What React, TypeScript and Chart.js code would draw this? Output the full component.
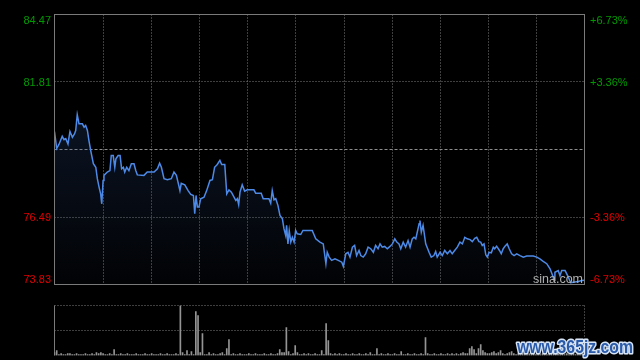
import React, { useEffect, useRef } from "react";
import { Chart, registerables } from "chart.js";

Chart.register(...registerables);

// ---- data ----
const prevClose = 79.15;
const priceMin = 73.83;
const priceMax = 84.47;
const priceGridValues = [76.49, 81.81];
const leftTickValues = [84.47, 81.81, 76.49, 73.83];
const leftTickLabels = ["84.47", "81.81", "76.49", "73.83"];
const rightTickLabels = ["+6.73%", "+3.36%", "-3.36%", "-6.73%"];
const totalMinutes = 240;
const timeColumns = 11;

const minutes = [
  0, 1, 2, 3.5, 4.3, 5.1, 6.1, 7, 8.1, 9.1,
  9.6, 10.3, 11.1, 12.6, 13.4, 14.1, 14.9, 15.6, 16.4, 17.6,
  18.7, 19.4, 20.2, 20.9, 21.4, 22, 22.4, 23.9, 25.1, 25.7,
  26.6, 27.3, 27.8, 28.8, 29.7, 30.4, 31.2, 31.8, 32.7, 33.7,
  34.8, 36, 36.8, 37.5, 40.5, 42, 45.1, 46.6, 47.6, 48.4,
  49.6, 51.1, 52.9, 54.1, 55.2, 56.1, 56.8, 57.4, 59, 60.5,
  61.7, 62.9, 63.5, 64.1, 64.7, 65.4, 66.2, 67.7, 68.9, 70.4,
  71.5, 72.5, 73.7, 74.9, 75.7, 77.1, 78, 79, 80.1, 81.3,
  82.1, 82.8, 83.4, 84, 85, 86.1, 87.3, 90.3, 91.1, 93.6,
  94.5, 97.1, 97.9, 98.6, 99.4, 100.2, 101.2, 102.1, 103.2, 103.9,
  104.7, 105.1, 105.7, 106.3, 107, 107.7, 108.5, 109.2, 109.9, 111.5,
  112.5, 116.7, 118.3, 120.2, 121.7, 122.9, 123.5, 124.4, 125.5, 127,
  128.5, 130.1, 130.8, 131.9, 132.9, 133.8, 134.9, 135.9, 136.8, 137.9,
  138.7, 139.8, 140.9, 142, 143.2, 144.4, 145.4, 146.5, 147.4, 148.4,
  149.5, 150.7, 151.9, 153, 154.1, 155, 156, 156.8, 157.9, 159,
  160.1, 161, 162, 162.8, 163.6, 165.1, 165.5, 166.1, 166.9, 168.1,
  169.6, 170.6, 171.8, 172.6, 173.3, 174.6, 175.6, 176.7, 177.9, 179.1,
  180.1, 181.2, 182.4, 183.6, 184.7, 185.8, 186.9, 188.2, 189.2, 190.3,
  191.2, 192.2, 193, 193.7, 194.5, 195.3, 196, 196.8, 197.8, 198.7,
  199.3, 200.2, 201.5, 202.3, 203.2, 204, 205, 205.9, 207, 208.1,
  209.3, 210.8, 212.3, 213.8, 216.8, 218.4, 219.8, 221.3, 222.9, 224.4,
  225.6, 226.2, 226.6, 228.1, 228.9, 229.7, 231.2, 232.7, 233.7, 234.9,
  237.2, 238.7, 240,
];

const prices = [
  79.86, 79.19, 79.35, 79.67, 79.54, 79.58, 79.37, 79.86, 79.63, 79.77,
  79.9, 80.52, 80.16, 80.16, 80.03, 80.1, 79.9, 79.5, 79.11, 78.59,
  78.45, 78.0, 77.66, 77.4, 77.01, 77.93, 78.13, 78.26, 78.32, 78.91,
  78.91, 78.45, 78.78, 78.91, 78.91, 78.39, 78.45, 78.26, 78.45, 78.32,
  78.59, 78.59, 78.32, 78.15, 78.13, 78.26, 78.26, 78.39, 78.61, 78.45,
  78.0, 77.96, 78.0, 78.26, 78.13, 77.8, 77.53, 77.82, 77.76, 77.53,
  77.38, 77.34, 76.62, 77.34, 76.88, 76.88, 77.21, 77.27, 77.53, 77.93,
  77.96, 78.45, 78.56, 78.72, 78.56, 78.56, 77.4, 77.56, 77.47, 77.27,
  77.14, 77.21, 76.98, 77.47, 77.76, 77.51, 77.56, 77.56, 77.43, 77.43,
  77.21, 77.21, 77.03, 77.53, 77.17, 77.21, 76.94, 76.55, 76.42, 76.03,
  75.76, 76.16, 75.43, 75.96, 75.5, 75.69, 75.5, 75.96, 75.83, 75.8,
  75.96, 75.96, 75.63, 75.5, 75.43, 74.65, 75.1, 74.91, 74.78, 74.84,
  74.78, 74.71, 74.54, 75.04, 75.1, 74.91, 75.3, 75.37, 74.97, 75.17,
  74.97, 74.91, 75.04, 75.3, 75.24, 75.1, 75.37, 75.24, 75.43, 75.3,
  75.33, 75.24, 75.33, 75.43, 75.63, 75.5, 75.43, 75.24, 75.5, 75.3,
  75.56, 75.3, 75.63, 75.69, 75.63, 76.22, 76.35, 75.89, 76.16, 75.43,
  75.1, 74.91, 74.97, 75.13, 74.91, 75.1, 74.97, 75.17, 75.04, 75.17,
  75.04, 75.17, 75.3, 75.5, 75.43, 75.69, 75.63, 75.6, 75.52, 75.65,
  75.69, 75.52, 75.5, 75.37, 75.43, 75.0, 74.91, 75.1, 75.08, 75.3,
  75.24, 75.34, 75.17, 75.04, 75.24, 75.34, 75.43, 75.24, 75.04, 74.97,
  75.04, 74.97, 74.91, 74.95, 74.95, 74.91, 74.84, 74.74, 74.65, 74.45,
  74.18, 73.99, 74.31, 74.38, 74.18, 74.38, 74.38, 74.12, 73.9, 73.92,
  73.95, 73.99, 74.0,
];

const volume = [
  3, 5, 1, 2, 1, 1, 2, 2, 1, 1, 2, 1, 1, 1, 2, 1, 1, 2, 1, 3,
  2, 3, 2, 1, 1, 2, 1, 6, 1, 1, 2, 1, 1, 2, 1, 1, 1, 2, 1, 1,
  1, 2, 1, 1, 2, 1, 1, 1, 2, 1, 1, 2, 1, 1, 1, 2, 1, 50, 3, 1,
  5, 1, 4, 1, 44, 40, 3, 22, 1, 1, 3, 1, 2, 1, 1, 2, 3, 1, 7, 16,
  1, 2, 1, 1, 2, 1, 1, 1, 2, 1, 1, 2, 1, 1, 1, 2, 1, 1, 2, 1,
  1, 2, 6, 3, 3, 28, 4, 1, 2, 10, 3, 1, 1, 2, 1, 2, 1, 1, 2, 1,
  1, 5, 1, 32, 15, 2, 1, 2, 1, 2, 1, 1, 2, 1, 1, 2, 1, 1, 2, 1,
  1, 2, 1, 3, 1, 1, 7, 1, 2, 1, 1, 2, 1, 1, 2, 1, 1, 4, 1, 1,
  2, 1, 1, 2, 1, 1, 2, 1, 18, 2, 1, 1, 2, 1, 1, 2, 1, 1, 2, 1,
  2, 1, 2, 1, 2, 3, 2, 2, 7, 9, 6, 2, 7, 11, 5, 3, 2, 2, 3, 4,
  2, 3, 5, 2, 1, 2, 3, 4, 2, 1, 2, 1, 2, 3, 1, 2, 1, 2, 1, 2,
  1, 2, 3, 1, 2, 1, 2, 3, 2, 1, 2, 1, 2, 1, 1, 2, 1, 2, 1, 2,
  3,
];
const volumeMax = 50;

// ---- styles ----
const LABEL_FONT = '11px "Liberation Sans", Arial, sans-serif';
const GREEN = "#009a00";
const RED = "#e00000";
const GRID = "#7c7c7c";
const BORDER = "#7a7a7a";

const pricePlugin = {
  id: "priceDecor",
  beforeDatasetsDraw(chart: any) {
    const { ctx, chartArea: a, scales } = chart;
    const x = scales.x;
    const y = scales.y;
    ctx.save();
    ctx.lineWidth = 1;
    ctx.strokeStyle = GRID;
    ctx.setLineDash([1, 2]);
    for (let i = 1; i < timeColumns; i++) {
      const px = Math.round(x.getPixelForValue((i * totalMinutes) / timeColumns)) + 0.5;
      ctx.beginPath();
      ctx.moveTo(px, a.top);
      ctx.lineTo(px, a.bottom);
      ctx.stroke();
    }
    for (const v of priceGridValues) {
      const py = Math.floor(y.getPixelForValue(v)) + 0.5;
      ctx.beginPath();
      ctx.moveTo(a.left, py);
      ctx.lineTo(a.right, py);
      ctx.stroke();
    }
    ctx.strokeStyle = "#8e8e8e";
    ctx.setLineDash([3, 2]);
    const pc = Math.floor(y.getPixelForValue(prevClose)) + 0.5;
    ctx.beginPath();
    ctx.moveTo(a.left, pc);
    ctx.lineTo(a.right, pc);
    ctx.stroke();
    ctx.restore();
  },
  afterDraw(chart: any) {
    const { ctx, chartArea: a, scales } = chart;
    const y = scales.y;
    ctx.save();
    ctx.setLineDash([]);
    ctx.lineWidth = 1;
    ctx.strokeStyle = BORDER;
    ctx.strokeRect(a.left, a.top, a.right - a.left, a.bottom - a.top);

    ctx.font = LABEL_FONT;
    ctx.textBaseline = "alphabetic";
    leftTickValues.forEach((v, i) => {
      const py = y.getPixelForValue(v);
      let base = py + 4;
      if (i === 0) base = py + 9.5;
      if (i === leftTickValues.length - 1) base = py - 1.5;
      const col = v > prevClose ? GREEN : RED;
      ctx.fillStyle = col;
      ctx.textAlign = "right";
      ctx.fillText(leftTickLabels[i], a.left - 3.5, base);
      ctx.textAlign = "left";
      ctx.fillText(rightTickLabels[i], a.right + 5.5, base);
    });

    ctx.font = '12.5px "Liberation Sans", Arial, sans-serif';
    ctx.fillStyle = "#b0b0b0";
    ctx.textAlign = "right";
    ctx.fillText("sina.com", a.right - 1.5, a.bottom - 1.5);
    ctx.restore();
  },
};

const volumePlugin = {
  id: "volumeDecor",
  beforeDatasetsDraw(chart: any) {
    const { ctx, chartArea: a, scales } = chart;
    const y = scales.y;
    ctx.save();
    ctx.lineWidth = 1;
    ctx.strokeStyle = GRID;
    ctx.setLineDash([1, 2]);
    for (const v of [volumeMax, volumeMax / 2]) {
      const py = Math.floor(y.getPixelForValue(v)) + 0.5;
      ctx.beginPath();
      ctx.moveTo(a.left, py);
      ctx.lineTo(a.right, py);
      ctx.stroke();
    }
    ctx.beginPath();
    ctx.moveTo(a.right, a.top);
    ctx.lineTo(a.right, a.bottom);
    ctx.stroke();
    ctx.setLineDash([]);
    ctx.strokeStyle = BORDER;
    ctx.beginPath();
    ctx.moveTo(a.left, a.top);
    ctx.lineTo(a.left, a.bottom);
    ctx.stroke();
    ctx.restore();
  },
  afterDraw(chart: any) {
    const { ctx } = chart;
    ctx.save();
    ctx.font = 'bold 18px "Liberation Sans", Arial, sans-serif';
    ctx.textAlign = "left";
    ctx.textBaseline = "alphabetic";
    ctx.lineJoin = "round";
    ctx.lineWidth = 3;
    ctx.strokeStyle = "#d6e4f6";
    ctx.strokeText("www.365jz.com", 517, 52.5, 116);
    ctx.fillStyle = "#2a5aa8";
    ctx.fillText("www.365jz.com", 517, 52.5, 116);
    ctx.restore();
  },
};

export default function App() {
  const priceRef = useRef<HTMLCanvasElement>(null);
  const volRef = useRef<HTMLCanvasElement>(null);

  useEffect(() => {
    const n = Math.min(minutes.length, prices.length);
    const points = [];
    for (let i = 0; i < n; i++) points.push({ x: minutes[i], y: prices[i] });

    const priceChart = new Chart(priceRef.current as HTMLCanvasElement, {
      type: "line",
      data: {
        datasets: [
          {
            data: points,
            borderColor: "#4d8ae8",
            borderWidth: 1.5,
            pointRadius: 0,
            tension: 0,
            fill: "start",
            backgroundColor: (c: any) => {
              const area = c.chart.chartArea;
              if (!area) return "rgba(0,0,0,0)";
              const g = c.chart.ctx.createLinearGradient(0, area.top, 0, area.bottom);
              g.addColorStop(0, "rgba(40,70,125,0.42)");
              g.addColorStop(1, "rgba(40,70,125,0.04)");
              return g;
            },
          },
        ],
      },
      options: {
        responsive: false,
        animation: false,
        layout: { padding: { left: 54.5, right: 55.5, top: 14.5, bottom: 15.5 } },
        plugins: { legend: { display: false }, tooltip: { enabled: false } },
        scales: {
          x: { type: "linear", min: 0, max: totalMinutes, display: false },
          y: { type: "linear", min: priceMin, max: priceMax, display: false },
        },
      },
      plugins: [pricePlugin],
    } as any);

    const volChart = new Chart(volRef.current as HTMLCanvasElement, {
      type: "bar",
      data: {
        datasets: [
          {
            data: volume.map((v, i) => ({ x: i, y: v })),
            backgroundColor: "#949494",
            borderWidth: 0,
            barThickness: 1,
          },
        ],
      },
      options: {
        responsive: false,
        animation: false,
        layout: { padding: { left: 54.5, right: 55.5, top: 5.5, bottom: 4.5 } },
        plugins: { legend: { display: false }, tooltip: { enabled: false } },
        scales: {
          x: { type: "linear", min: 0, max: totalMinutes, display: false, offset: false },
          y: { type: "linear", min: 0, max: volumeMax, display: false },
        },
      },
      plugins: [volumePlugin],
    } as any);

    return () => {
      priceChart.destroy();
      volChart.destroy();
    };
  }, []);

  return (
    <div
      style={{
        position: "fixed",
        left: 0,
        top: 0,
        width: 640,
        height: 360,
        background: "#000",
        overflow: "hidden",
      }}
    >
      <canvas
        ref={priceRef}
        width={640}
        height={300}
        style={{ position: "absolute", left: 0, top: 0, display: "block" }}
      />
      <canvas
        ref={volRef}
        width={640}
        height={60}
        style={{ position: "absolute", left: 0, top: 300, display: "block" }}
      />
    </div>
  );
}
